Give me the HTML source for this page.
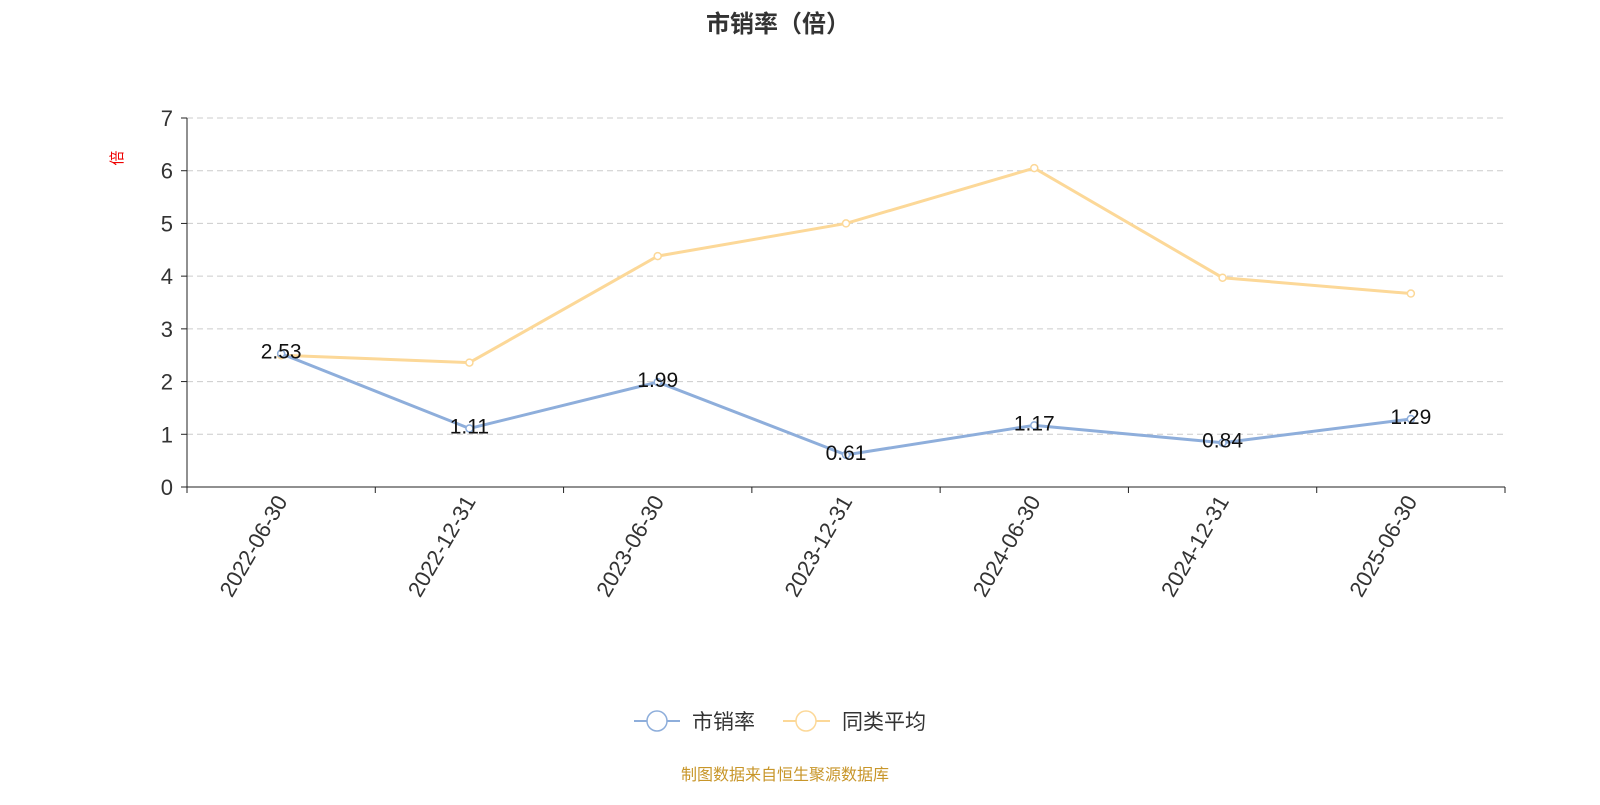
<!DOCTYPE html>
<html><head><meta charset="utf-8"><style>
body{margin:0;background:#fff;font-family:"Liberation Sans","Noto Sans CJK SC",sans-serif}
</style></head><body>
<svg width="1600" height="800" xmlns="http://www.w3.org/2000/svg" font-family="Liberation Sans, Noto Sans CJK SC, sans-serif">
<text x="778" y="32" text-anchor="middle" font-size="24" font-weight="bold" fill="#333">市销率（倍）</text>
<text transform="translate(122,158) rotate(-90)" text-anchor="middle" font-size="15" fill="#e00">倍</text>
<g id="grid"></g><g id="axes"></g><g id="series"></g>
<g>
<g>
<line x1="634" y1="721" x2="680" y2="721" stroke="#8eaedb" stroke-width="2"/><circle cx="657" cy="721" r="10" fill="#fff" stroke="#8eaedb" stroke-width="1.5"/>
<text x="692" y="729" font-size="21" fill="#333">市销率</text></g>
<g>
<line x1="783" y1="721" x2="830" y2="721" stroke="#fcd898" stroke-width="2"/><circle cx="806" cy="721" r="10" fill="#fff" stroke="#fcd898" stroke-width="1.5"/>
<text x="842" y="729" font-size="21" fill="#333">同类平均</text></g>
</g>
<text x="785" y="780" text-anchor="middle" font-size="16" fill="#c8962a">制图数据来自恒生聚源数据库</text>
</svg>
<script>
const categories=["2022-06-30","2022-12-31","2023-06-30","2023-12-31","2024-06-30","2024-12-31","2025-06-30"];
const psValues=[2.53,1.11,1.99,0.61,1.17,0.84,1.29];
const avgValues=[2.5,2.36,4.38,5.0,6.05,3.97,3.67];
const yTicks=[0,1,2,3,4,5,6,7];
const NS="http://www.w3.org/2000/svg";
const X0=187,X1=1505,Y0=487,Y7=118;
const step=(X1-X0)/categories.length;
const xs=i=>X0+step*(i+0.5);
const ys=v=>Y0-(Y0-Y7)*v/7;
function mk(p,t,a){const e=document.createElementNS(NS,t);for(const k in a)e.setAttribute(k,a[k]);p.appendChild(e);return e;}
const grid=document.getElementById('grid'),axes=document.getElementById('axes'),ser=document.getElementById('series');
yTicks.forEach(v=>{
 if(v>0){const g=mk(grid,'line',{x1:X0,x2:X1,y1:ys(v),y2:ys(v),stroke:'#ccc','stroke-dasharray':'6,4'});
 
 }
 const t=mk(axes,'text',{x:X0-14,y:ys(v)+8,'text-anchor':'end','font-size':'22',fill:'#333'});t.textContent=v;
 
 
 mk(axes,'line',{x1:X0-6,x2:X0,y1:ys(v),y2:ys(v),stroke:'#222'});
});
mk(axes,'line',{x1:X0,x2:X0,y1:Y7,y2:Y0,stroke:'#222'});
mk(axes,'line',{x1:X0,x2:X1,y1:Y0,y2:Y0,stroke:'#222'});
for(let i=0;i<=categories.length;i++)mk(axes,'line',{x1:X0+step*i,x2:X0+step*i,y1:Y0,y2:Y0+6,stroke:'#222'});
categories.forEach((c,i)=>{
 const t=mk(axes,'text',{transform:`translate(${xs(i)+7},${Y0+14}) rotate(-60)`,'text-anchor':'end','font-size':'22',fill:'#333'});t.textContent=c;
 
 
});
function series(vals,color,name,labels){
 const l=mk(ser,'polyline',{points:vals.map((v,i)=>xs(i)+','+ys(v)).join(' '),fill:'none',stroke:color,'stroke-width':3});
 
 
 vals.forEach((v,i)=>{
  const c=mk(ser,'circle',{cx:xs(i),cy:ys(v),r:3.5,fill:'#fff',stroke:color,'stroke-width':1.5});
  
  
  if(labels){const t=mk(ser,'text',{x:xs(i),y:ys(v)+5,'text-anchor':'middle','font-size':'21',fill:'#111'});t.textContent=v.toFixed(2);
  
  }
 });
}
series(avgValues,'#fcd898','avg',false);
series(psValues,'#8eaedb','ps',true);
</script>
</body></html>
